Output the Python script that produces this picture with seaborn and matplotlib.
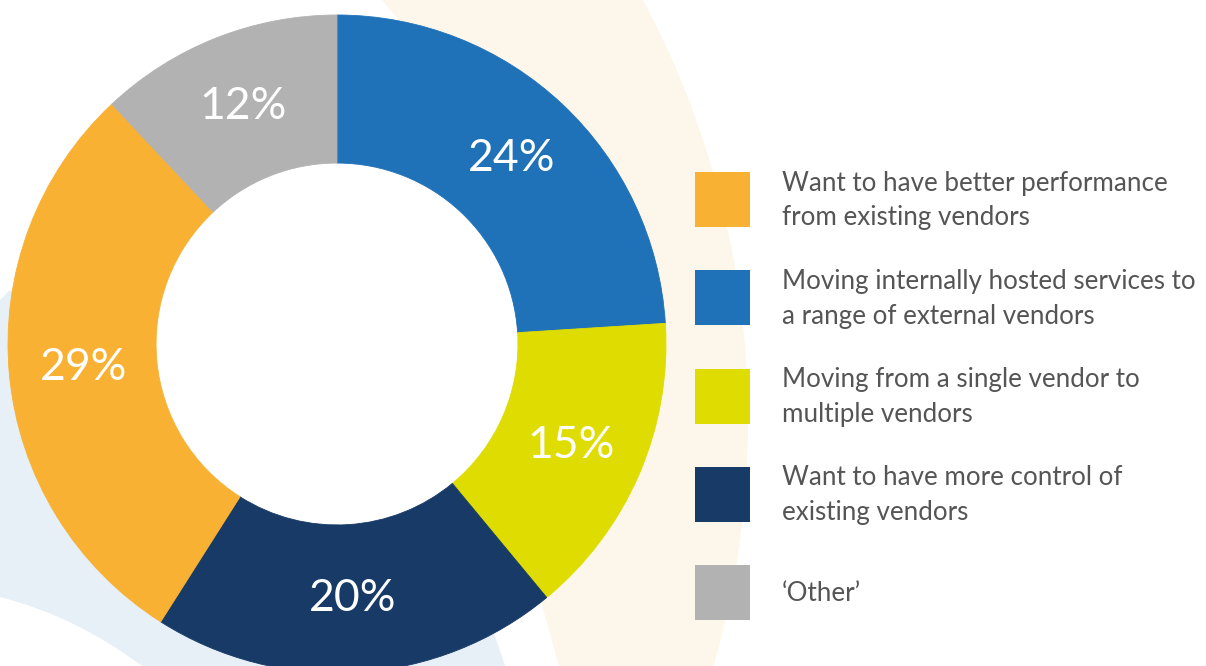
import numpy as np
import matplotlib
matplotlib.use("Agg")
import matplotlib.pyplot as plt
from matplotlib.patches import PathPatch, Circle, Rectangle
from matplotlib.path import Path
import seaborn as sns

# ---------------- data ----------------
categories = [
    "Want to have better performance\nfrom existing vendors",
    "Moving internally hosted services to\na range of external vendors",
    "Moving from a single vendor to\nmultiple vendors",
    "Want to have more control of\nexisting vendors",
    "\u2018Other\u2019",
]
values = [29, 24, 15, 20, 12]
colors = ["#F8B133", "#1F71B8", "#DEDC00", "#173A67", "#B2B2B2"]
pie_order = [1, 2, 3, 0, 4]   # clockwise from 12 o'clock

# ---------------- style ----------------
sns.set_theme(style="white")
plt.rcParams["font.family"] = ["Lato", "DejaVu Sans"]

W, H = 1206, 666
fig = plt.figure(figsize=(W / 100, H / 100), dpi=100)
fig.patch.set_facecolor("white")

# background decoration axes (pixel coordinates, y down)
bg = fig.add_axes([0, 0, 1, 1], zorder=0)
bg.set_xlim(0, W)
bg.set_ylim(H, 0)
bg.axis("off")

# cream band on the right
cx, cy, R = -145, 420, 893
t0 = np.arcsin((0 - cy) / R)
t1 = np.arcsin((H - cy) / R)
tt = np.linspace(t0, t1, 120)
arc = np.column_stack([cx + R * np.cos(tt), cy + R * np.sin(tt)])
cream_pts = np.vstack([[[382, 0]], arc, [[559, 666], [541, 601], [397, 18], [382, 0]]])
bg.add_patch(PathPatch(Path(cream_pts), facecolor="#FDF6EA", edgecolor="none"))

# light blue band on the lower left
verts = [(0, 300), (10, 290), (494, 633), (505, 666), (142, 666), (75, 616), (0, 597), (0, 300)]
codes = [Path.MOVETO, Path.LINETO, Path.LINETO, Path.LINETO, Path.LINETO,
         Path.CURVE3, Path.CURVE3, Path.CLOSEPOLY]
bg.add_patch(PathPatch(Path(verts, codes), facecolor="#E7EFF7", edgecolor="none"))

# ---------------- donut ----------------
r_px = 329
ccx, ccy = 337, 344
ax = fig.add_axes([(ccx - r_px) / W, (H - ccy - r_px) / H, 2 * r_px / W, 2 * r_px / H], zorder=1)
ax.set_facecolor("none")

pv = [values[i] for i in pie_order]
pc = [colors[i] for i in pie_order]
ax.add_patch(Circle((0, 0), 0.56, facecolor="white", edgecolor="none", zorder=0))
wedges, texts, autotexts = ax.pie(
    pv, colors=pc, startangle=90, counterclock=False,
    autopct=lambda p: f"{p:.0f}%", pctdistance=0.775,
    wedgeprops=dict(width=0.45, linewidth=0),
    textprops=dict(color="white", fontsize=32, fontweight="normal"),
)
for w, c in zip(wedges, pc):
    w.set_edgecolor(c)
    w.set_linewidth(0.6)
ax.set_xlim(-1, 1)
ax.set_ylim(-1, 1)
ax.set_aspect("equal")
ax.axis("off")

# ---------------- legend ----------------
sq_x, sq_w = 695, 55
top, pitch = 172, 98.3
for i, (lab, col) in enumerate(zip(categories, colors)):
    y0 = top + i * pitch
    bg.add_patch(Rectangle((sq_x, y0), sq_w, sq_w, facecolor=col, edgecolor="none"))
    bg.text(782, y0 + sq_w / 2 + 1, lab, va="center", ha="left", fontsize=18.7,
            color="#555555", linespacing=1.5)

fig.savefig("out.png", dpi=100, facecolor="white")
